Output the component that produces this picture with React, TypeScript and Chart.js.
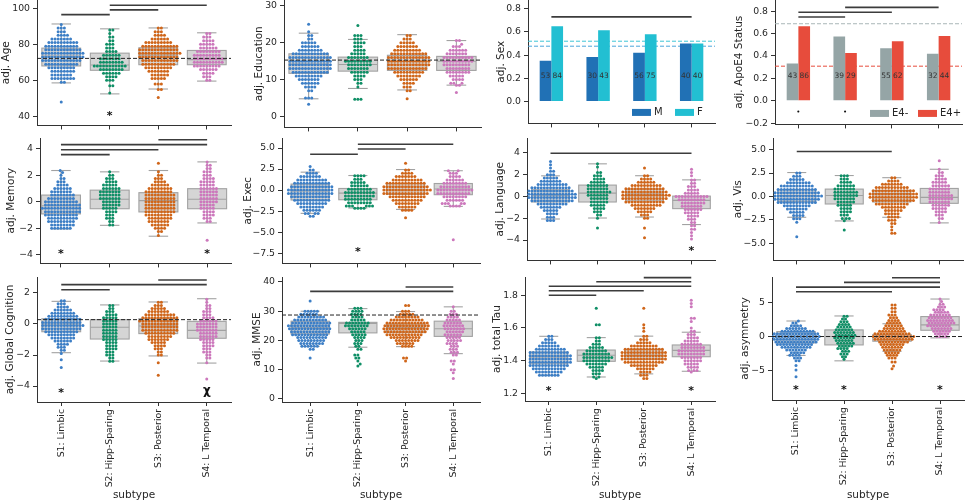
import React, { useEffect, useRef } from 'react';
import { Chart, registerables } from 'chart.js';

Chart.register(...registerables);

type Pair = [number, number];

const FONT = 'DejaVu Sans';
const TEXT = '#262626';
const AXIS = '#333333';
const BOX_FILL = '#d5d5d5';
const BOX_LINE = '#a2a2a2';
const SIG = '#3c3c3c';

const categories = ['S1: Limbic', 'S2: Hipp-Sparing', 'S3: Posterior', 'S4: L Temporal'];
const groupColors = ['#3d7fc6', '#0f8f66', '#d0661a', '#cc78bc'];

// ---------- Age ----------
const ageS1: Pair[] = [[91,1],[89,3],[87,3],[85,4],[83,7],[81,10],[79,11],[77,12],[75,14],[73,14],[71,13],[69,11],[67,9],[65,8],[63,7],[61,8],[59,2],[48,1]];
const ageS2: Pair[] = [[88,2],[86,1],[84,2],[82,2],[80,3],[78,3],[76,4],[74,6],[72,7],[70,8],[68,11],[66,8],[64,6],[62,4],[60,3],[57,2],[53,1]];
const ageS3: Pair[] = [[89,2],[87,3],[85,4],[83,6],[81,9],[79,12],[77,13],[75,14],[73,13],[71,12],[69,11],[67,9],[65,7],[63,6],[61,5],[58,3],[55,2],[50.5,1]];
const ageS4: Pair[] = [[86,2],[84,3],[82,4],[80,5],[78,6],[76,8],[74,9],[72,10],[70,10],[68,9],[66,6],[64,4],[62,3],[60,2]];
const ageBox = [[58.6,68.0,73.5,77.9,91.3],[52.5,65.6,68.5,75.1,88.6],[55.2,68.7,74.0,78.1,89.1],[59.6,68.7,71.5,76.6,86.4]];
const ageSig = [[0,1,96.5],[1,2,99.1],[1,3,101.7]];
const ageStars: [number, number, string][] = [[1,42,'*']];
const ageTicks = [40,60,80,100];

// ---------- Education ----------
const eduS1: Pair[] = [[25,1],[23,1],[22,2],[21,2],[20,5],[19,6],[18,8],[17,12],[16,14],[15,14],[14,14],[13,14],[12,12],[11,9],[10,7],[9,6],[8,4],[7,2],[5,3],[3.3,1]];
const eduS2: Pair[] = [[24.7,1],[22,3],[21,3],[20,4],[19,3],[18,4],[17,5],[16,7],[15,9],[14,8],[13,7],[12,6],[11,4],[10,3],[9,2],[8,1],[4.7,3]];
const eduS3: Pair[] = [[22,2],[21,3],[20,5],[19,7],[18,9],[17,12],[16,14],[15,14],[14,14],[13,13],[12,10],[11,8],[10,6],[9,4],[8,3],[7,2],[4.8,1]];
const eduS4: Pair[] = [[20.6,2],[19.6,1],[19,3],[18,6],[17,7],[16,10],[15,10],[14,9],[13,8],[12,8],[11,5],[10,4],[9,3],[8.5,2],[6.5,1]];
const eduBox = [[4.8,11.7,14.2,17.0,22.6],[7.6,12.3,14.1,16.1,20.9],[7.2,12.5,14.9,16.6,22.2],[8.5,12.5,15.0,16.3,20.6]];
const eduTicks = [0,10,20,30];

// ---------- Sex ----------
const sexM = [0.352, 0.384, 0.42, 0.5];
const sexF = [0.65, 0.615, 0.58, 0.5];
const sexCountM = [53, 30, 56, 40];
const sexCountF = [84, 43, 75, 40];
const sexRef = [0.52, 0.477];
const sexSig = [[0,3,0.73]];
const sexTicks = [0,0.2,0.4,0.6,0.8];

// ---------- ApoE4 ----------
const apoNeg = [0.332, 0.573, 0.469, 0.42];
const apoPos = [0.665, 0.427, 0.531, 0.579];
const apoCountNeg = [43, 39, 55, 32];
const apoCountPos = [86, 29, 62, 44];
const apoRef = [0.688, 0.309];
const apoSig = [[0,1,0.748],[0,2,0.79],[1,3,0.834]];
const apoMarks: [number, number, string][] = [[0,-0.105,'•'],[1,-0.105,'•']];
const apoTicks = [-0.2,0,0.2,0.4,0.6,0.8];

// ---------- Memory ----------
const memS1: Pair[] = [[2.35,1],[2.2,1],[2.0,1],[1.75,2],[1.5,3],[1.25,4],[1.0,6],[0.75,7],[0.5,8],[0.25,9],[0,11],[-0.25,12],[-0.5,13],[-0.75,12],[-1.0,11],[-1.25,10],[-1.5,9],[-1.75,8],[-2.0,7]];
const memS2: Pair[] = [[2.25,1],[2.0,2],[1.75,3],[1.5,4],[1.25,5],[1.0,6],[0.75,7],[0.5,7],[0.25,7],[0,6],[-0.25,6],[-0.5,5],[-0.75,4],[-1.0,3],[-1.25,3],[-1.5,2],[-1.75,2]];
const memS3: Pair[] = [[2.9,1],[2.25,1],[2.0,2],[1.75,3],[1.5,4],[1.25,6],[1.0,8],[0.75,9],[0.5,10],[0.25,10],[0,10],[-0.25,10],[-0.5,10],[-0.75,10],[-1.0,9],[-1.25,8],[-1.5,7],[-1.75,6],[-2.0,4],[-2.25,2],[-2.55,1]];
const memS4: Pair[] = [[3.0,1],[2.75,2],[2.5,2],[2.25,3],[2.0,3],[1.75,4],[1.5,5],[1.25,5],[1.0,6],[0.75,6],[0.5,6],[0.25,6],[0,6],[-0.25,5],[-0.5,5],[-0.75,4],[-1.0,4],[-1.25,3],[-1.5,2],[-2.9,1]];
const memBox = [[-2.05,-0.92,-0.3,0.5,2.35],[-1.78,-0.53,0.18,0.87,2.25],[-2.6,-0.77,0.08,0.68,2.35],[-1.6,-0.53,0.18,0.98,3.0]];
const memSig = [[0,1,3.55],[0,2,3.92],[0,3,4.3],[2,3,4.67]];
const memStars: [number, number, string][] = [[0,-3.7,'*'],[3,-3.7,'*']];
const memTicks = [-4,-2,0,2,4];

// ---------- Exec ----------
const exeS1: Pair[] = [[2.8,1],[2.4,2],[2.0,4],[1.6,7],[1.2,10],[0.8,12],[0.4,14],[0.0,15],[-0.4,15],[-0.8,13],[-1.2,12],[-1.6,10],[-2.0,8],[-2.4,6],[-2.8,4],[-3.1,2]];
const exeS2: Pair[] = [[1.7,4],[1.3,3],[0.9,5],[0.5,6],[0.1,8],[-0.3,10],[-0.7,10],[-1.1,9],[-1.5,8],[-1.9,6],[-2.15,4]];
const exeS3: Pair[] = [[3.2,1],[2.4,2],[2.0,4],[1.6,7],[1.2,10],[0.8,13],[0.4,15],[0.0,16],[-0.4,15],[-0.8,12],[-1.2,10],[-1.6,8],[-2.0,6],[-2.4,4],[-3.3,1]];
const exeS4: Pair[] = [[2.3,2],[2.0,3],[1.6,4],[1.2,6],[0.8,8],[0.4,10],[0.0,12],[-0.4,11],[-0.8,8],[-1.2,6],[-1.6,5],[-1.9,4],[-5.9,1]];
const exeBox = [[-2.77,-1.18,-0.1,0.71,2.13],[-2.13,-1.15,-0.36,0.19,1.73],[-2.3,-0.52,0.0,0.78,2.44],[-1.94,-0.55,0.12,0.78,2.3]];
const exeSig = [[0,1,4.26],[1,2,4.89],[1,3,5.44]];
const exeStars: [number, number, string][] = [[1,-7.0,'*']];
const exeTicks = [-7.5,-5,-2.5,0,2.5,5];

// ---------- Language ----------
const lanS1: Pair[] = [[3.2,1],[2.9,1],[2.6,1],[2.3,2],[2.0,3],[1.7,5],[1.4,7],[1.1,10],[0.8,13],[0.5,15],[0.2,16],[-0.1,16],[-0.4,14],[-0.7,10],[-1.0,7],[-1.3,5],[-1.6,4],[-1.9,3],[-2.2,3]];
const lanS2: Pair[] = [[3.0,1],[2.7,1],[2.2,2],[1.9,3],[1.6,4],[1.3,5],[1.0,7],[0.7,7],[0.4,8],[0.1,7],[-0.2,6],[-0.5,6],[-0.8,5],[-1.1,4],[-1.4,3],[-1.7,2],[-2.0,1],[-2.9,1]];
const lanS3: Pair[] = [[2.6,1],[1.9,2],[1.6,4],[1.3,6],[1.0,10],[0.7,13],[0.4,15],[0.1,16],[-0.2,15],[-0.5,13],[-0.8,10],[-1.1,7],[-1.4,5],[-1.7,3],[-2.0,2],[-2.9,1],[-3.8,1]];
const lanS4: Pair[] = [[2.5,1],[2.2,1],[1.9,1],[1.5,2],[1.2,2],[0.9,3],[0.6,4],[0.3,5],[0.0,11],[-0.3,9],[-0.6,8],[-0.9,7],[-1.2,6],[-1.5,5],[-1.8,4],[-2.1,3],[-2.4,2],[-2.7,2],[-3.0,2],[-3.3,1],[-3.6,1],[-3.9,1]];
const lanBox = [[-2.07,-0.51,0.06,0.61,1.89],[-1.98,-0.51,0.3,1.04,2.99],[-1.89,-0.42,0.21,0.67,1.9],[-2.58,-1.12,-0.36,0.03,1.52]];
const lanSig = [[0,3,3.96]];
const lanStars: [number, number, string][] = [[3,-4.72,'*']];
const lanTicks = [-4,-2,0,2,4];

// ---------- Vis ----------
const visS1: Pair[] = [[2.5,2],[2.15,3],[1.8,5],[1.45,8],[1.1,11],[0.75,13],[0.4,15],[0.05,16],[-0.3,15],[-0.65,13],[-1.0,9],[-1.35,7],[-1.7,5],[-2.05,4],[-2.4,3],[-2.75,1],[-4.3,1]];
const visS2: Pair[] = [[2.2,3],[1.85,3],[1.5,4],[1.15,6],[0.8,7],[0.45,8],[0.1,8],[-0.25,7],[-0.6,6],[-0.95,5],[-1.3,4],[-1.65,4],[-2.0,3],[-2.35,3],[-2.6,1],[-3.6,1]];
const visS3: Pair[] = [[2.0,2],[1.65,4],[1.3,7],[0.95,11],[0.6,14],[0.25,16],[-0.1,16],[-0.45,14],[-0.8,11],[-1.15,8],[-1.5,6],[-1.85,5],[-2.2,4],[-2.55,3],[-2.9,2],[-3.25,1],[-3.6,1],[-3.95,2]];
const visS4: Pair[] = [[3.8,1],[2.9,1],[2.55,2],[2.2,3],[1.85,4],[1.5,5],[1.15,6],[0.8,7],[0.45,7],[0.1,8],[-0.25,8],[-0.6,7],[-0.95,6],[-1.3,5],[-1.65,4],[-2.0,3],[-2.35,2],[-2.8,1]];
const visBox = [[-2.23,-0.53,0.1,0.71,2.55],[-2.62,-0.81,0.1,0.78,2.23],[-2.23,-0.6,0.3,0.64,2.0],[-2.83,-0.74,-0.1,0.85,2.9]];
const visSig = [[0,2,4.8]];
const visTicks = [-5,-2.5,0,2.5,5];

// ---------- Global Cognition ----------
const gcS1: Pair[] = [[1.5,2],[1.3,3],[1.1,4],[0.9,6],[0.7,8],[0.5,10],[0.3,12],[0.1,13],[-0.1,14],[-0.3,13],[-0.5,11],[-0.7,9],[-0.9,8],[-1.1,6],[-1.3,4],[-1.5,3],[-1.7,2],[-1.9,1],[-2.3,1],[-2.8,1]];
const gcS2: Pair[] = [[1.2,2],[1.0,2],[0.8,3],[0.6,4],[0.4,5],[0.2,5],[0.0,5],[-0.2,5],[-0.4,5],[-0.6,5],[-0.8,5],[-1.0,5],[-1.2,4],[-1.4,4],[-1.6,4],[-1.8,3],[-2.0,3],[-2.2,2],[-2.4,2]];
const gcS3: Pair[] = [[1.4,2],[1.2,3],[1.0,5],[0.8,7],[0.6,10],[0.4,12],[0.2,13],[0.0,12],[-0.2,12],[-0.4,12],[-0.6,10],[-0.8,8],[-1.0,7],[-1.2,5],[-1.4,4],[-1.6,3],[-1.8,2],[-2.0,2],[-2.5,1],[-3.3,1]];
const gcS4: Pair[] = [[1.6,1],[1.4,1],[1.2,2],[1.0,2],[0.8,3],[0.6,3],[0.4,4],[0.2,6],[0.0,7],[-0.2,7],[-0.4,7],[-0.6,6],[-0.8,6],[-1.0,5],[-1.2,4],[-1.4,4],[-1.6,3],[-1.8,3],[-2.0,2],[-2.2,2],[-2.5,1],[-3.55,1]];
const gcBox = [[-1.85,-0.5,0.0,0.34,1.46],[-2.39,-0.97,-0.21,0.28,1.23],[-2.06,-0.62,-0.13,0.34,1.42],[-2.52,-0.92,-0.41,0.17,1.63]];
const gcSig = [[0,1,2.21],[0,3,2.54],[2,3,2.84]];
const gcStars: [number, number, string][] = [[0,-4.28,'*'],[3,-4.3,'χ']];
const gcTicks = [-4,-2,0,2];

// ---------- MMSE ----------
const mmsS1: Pair[] = [[33.5,1],[30,5],[29,6],[28,9],[27,11],[26,13],[25,14],[24,14],[23,13],[22,12],[21,10],[20,9],[19,8],[18,6],[17,2],[14,1]];
const mmsS2: Pair[] = [[31,3],[30,4],[29,4],[28,4],[27,5],[26,8],[25,8],[24,6],[23,5],[22,5],[21,4],[20,3],[19,3],[18,2],[17,2],[15,2],[14,2],[13,1],[12,1],[11.3,1]];
const mmsS3: Pair[] = [[32,2],[30,3],[29,5],[28,8],[27,11],[26,14],[25,15],[24,15],[23,14],[22,12],[21,10],[20,8],[19,6],[18,4],[14,2],[13,1]];
const mmsS4: Pair[] = [[31.5,1],[30,2],[29,3],[28,4],[27,5],[26,6],[25,7],[24,7],[23,6],[22,6],[21,5],[20,5],[19,4],[18,3],[17,3],[16,3],[15,2],[13,2],[12,1],[10,2],[9,1],[7,1]];
const mmsBox = [[18.0,22.2,24.3,26.6,30.0],[17.7,22.6,25.8,26.2,30.9],[17.9,22.7,24.3,25.7,29.9],[15.5,21.4,24.0,26.6,31.5]];
const mmsSig = [[0,3,36.8],[2,3,38.3]];
const mmsTicks = [0,10,20,30,40];

// ---------- total Tau ----------
const tauS1: Pair[] = [[1.55,2],[1.53,3],[1.51,5],[1.49,7],[1.47,10],[1.45,13],[1.43,14],[1.41,14],[1.39,14],[1.37,13],[1.35,11],[1.33,9],[1.31,7]];
const tauS2: Pair[] = [[1.72,1],[1.62,2],[1.54,2],[1.52,2],[1.50,3],[1.48,5],[1.46,7],[1.44,9],[1.42,10],[1.40,9],[1.38,7],[1.36,5],[1.34,4],[1.32,3],[1.30,2],[1.29,1]];
const tauS3: Pair[] = [[1.72,1],[1.62,1],[1.60,1],[1.58,1],[1.55,2],[1.53,3],[1.51,5],[1.49,9],[1.47,13],[1.45,15],[1.43,15],[1.41,15],[1.39,13],[1.37,9],[1.35,6],[1.33,4],[1.31,3],[1.29,2]];
const tauS4: Pair[] = [[1.77,1],[1.75,1],[1.73,1],[1.66,2],[1.64,1],[1.60,1],[1.58,2],[1.56,3],[1.54,4],[1.52,5],[1.50,7],[1.48,8],[1.46,9],[1.44,9],[1.42,7],[1.40,6],[1.38,5],[1.36,4],[1.34,3],[1.33,1]];
const tauBox = [[1.311,1.38,1.423,1.453,1.549],[1.30,1.396,1.433,1.465,1.541],[1.319,1.408,1.433,1.47,1.55],[1.335,1.424,1.463,1.496,1.574]];
const tauSig = [[0,1,1.80],[0,2,1.828],[0,3,1.855],[1,3,1.883],[2,3,1.908]];
const tauStars: [number, number, string][] = [[0,1.233,'*'],[3,1.233,'*']];
const tauTicks = [1.2,1.4,1.6,1.8];

// ---------- asymmetry ----------
const asyS1: Pair[] = [[2.3,1],[2.0,2],[1.6,4],[1.2,7],[0.8,11],[0.4,15],[0.0,16],[-0.4,15],[-0.8,14],[-1.2,12],[-1.6,10],[-2.0,7],[-2.4,5],[-2.8,4],[-3.2,3],[-3.6,2],[-4.3,1],[-5.0,1],[-6.0,1]];
const asyS2: Pair[] = [[3.0,2],[2.6,2],[2.2,3],[1.8,4],[1.4,5],[1.0,6],[0.6,7],[0.2,7],[-0.2,7],[-0.6,6],[-1.0,6],[-1.4,5],[-1.8,4],[-2.2,3],[-2.6,3],[-3.0,2],[-3.4,1]];
const asyS3: Pair[] = [[4.7,2],[4.2,2],[3.7,2],[3.2,3],[2.8,3],[2.4,4],[2.0,5],[1.6,6],[1.2,7],[0.8,9],[0.4,12],[0.0,14],[-0.4,13],[-0.8,10],[-1.2,8],[-1.6,7],[-2.0,6],[-2.4,5],[-2.8,4],[-3.2,3],[-3.8,2],[-4.4,1],[-4.8,1]];
const asyS4: Pair[] = [[5.6,1],[5.2,1],[4.8,2],[4.4,3],[4.0,4],[3.6,5],[3.2,7],[2.8,8],[2.4,9],[2.0,9],[1.6,8],[1.2,7],[0.8,6],[0.4,5],[0.0,4]];
const asyBox = [[-2.82,-0.95,0.0,0.74,2.31],[-3.62,-1.25,0.0,0.98,3.06],[-2.2,-0.7,0.0,0.3,1.9],[-0.2,0.93,1.73,2.97,5.58]];
const asySig = [[0,2,6.67],[0,3,7.36],[1,3,8.06],[2,3,8.75]];
const asyStars: [number, number, string][] = [[0,-7.47,'*'],[1,-7.47,'*'],[3,-7.47,'*']];
const asyTicks = [-5,0,5];

// ---------- panel configuration ----------
interface HLine { y: number; color: string; }
interface BarSeries { label: string; values: number[]; counts: number[]; color: string; legendOff: number; }
interface Panel {
  kind: 'swarm' | 'bar';
  title: string;
  left: number; right: number; top: number; bottom: number; yw: number; xh: number;
  xMin: number; xMax: number; yMin: number; yMax: number;
  yTicks: number[]; dec: number; showX: boolean;
  groups?: Pair[][]; boxes?: number[][];
  bars?: BarSeries[]; countY?: number;
  sig: number[][]; stars: [number, number, string][]; hlines: HLine[];
}

const PT = 10;
const PR = 10;
const ROW1 = 0, ROW2 = 138, ROW3 = 277;

const panels: Panel[] = [
  { kind: 'swarm', title: 'adj. Age', left: 37, right: 231, top: ROW1, bottom: 126, yw: 37, xh: 8,
    xMin: -0.5, xMax: 3.5, yMin: 35.0, yMax: 104.6, yTicks: ageTicks, dec: 0, showX: false,
    groups: [ageS1, ageS2, ageS3, ageS4], boxes: ageBox, sig: ageSig, stars: ageStars,
    hlines: [{ y: 72.2, color: '#222' }] },
  { kind: 'swarm', title: 'adj. Education', left: 284, right: 481, top: ROW1, bottom: 128, yw: 31, xh: 8,
    xMin: -0.5, xMax: 3.5, yMin: -2.97, yMax: 31.6, yTicks: eduTicks, dec: 0, showX: false,
    groups: [eduS1, eduS2, eduS3, eduS4], boxes: eduBox, sig: [], stars: [],
    hlines: [{ y: 15.3, color: '#222' }] },
  { kind: 'bar', title: 'adj. Sex', left: 528, right: 715, top: ROW1, bottom: 124, yw: 33, xh: 8,
    xMin: -0.5, xMax: 3.5, yMin: -0.19, yMax: 0.876, yTicks: sexTicks, dec: 1, showX: false,
    bars: [
      { label: 'M', values: sexM, counts: sexCountM, color: '#2171b5', legendOff: 83 },
      { label: 'F', values: sexF, counts: sexCountF, color: '#22bfd2', legendOff: 40 },
    ], countY: 0.22, sig: sexSig, stars: [],
    hlines: [{ y: sexRef[0], color: '#3fc6d6' }, { y: sexRef[1], color: '#4aa6da' }] },
  { kind: 'bar', title: 'adj. ApoE4 Status', left: 775, right: 962, top: ROW1, bottom: 125, yw: 42, xh: 8,
    xMin: -0.5, xMax: 3.5, yMin: -0.211, yMax: 0.90, yTicks: apoTicks, dec: 1, showX: false,
    bars: [
      { label: 'E4-', values: apoNeg, counts: apoCountNeg, color: '#95a5a6', legendOff: 92 },
      { label: 'E4+', values: apoPos, counts: apoCountPos, color: '#e74c3c', legendOff: 44 },
    ], countY: 0.22, sig: apoSig, stars: apoMarks,
    hlines: [{ y: apoRef[0], color: '#a9b6b7' }, { y: apoRef[1], color: '#e74c3c' }] },

  { kind: 'swarm', title: 'adj. Memory', left: 40, right: 231, top: ROW2, bottom: 264, yw: 35, xh: 8,
    xMin: -0.43, xMax: 3.49, yMin: -4.65, yMax: 4.8, yTicks: memTicks, dec: 0, showX: false,
    groups: [memS1, memS2, memS3, memS4], boxes: memBox, sig: memSig, stars: memStars, hlines: [] },
  { kind: 'swarm', title: 'adj. Exec', left: 282, right: 480, top: ROW2, bottom: 264, yw: 40, xh: 8,
    xMin: -0.59, xMax: 3.56, yMin: -8.72, yMax: 6.19, yTicks: exeTicks, dec: 1, showX: false,
    groups: [exeS1, exeS2, exeS3, exeS4], boxes: exeBox, sig: exeSig, stars: exeStars, hlines: [] },
  { kind: 'swarm', title: 'adj. Language', left: 527, right: 715, top: ROW2, bottom: 261, yw: 33, xh: 8,
    xMin: -0.5, xMax: 3.5, yMin: -5.87, yMax: 5.36, yTicks: lanTicks, dec: 0, showX: false,
    groups: [lanS1, lanS2, lanS3, lanS4], boxes: lanBox, sig: lanSig, stars: lanStars, hlines: [] },
  { kind: 'swarm', title: 'adj. Vis', left: 773, right: 963, top: ROW2, bottom: 261, yw: 41, xh: 8,
    xMin: -0.5, xMax: 3.5, yMin: -6.84, yMax: 6.24, yTicks: visTicks, dec: 1, showX: false,
    groups: [visS1, visS2, visS3, visS4], boxes: visBox, sig: visSig, stars: [], hlines: [] },

  { kind: 'swarm', title: 'adj. Global Cognition', left: 37, right: 231, top: ROW3, bottom: 402, yw: 33, xh: 101,
    xMin: -0.5, xMax: 3.5, yMin: -5.03, yMax: 3.03, yTicks: gcTicks, dec: 0, showX: true,
    groups: [gcS1, gcS2, gcS3, gcS4], boxes: gcBox, sig: gcSig, stars: gcStars,
    hlines: [{ y: 0.28, color: '#222' }] },
  { kind: 'swarm', title: 'adj. MMSE', left: 282, right: 480, top: ROW3, bottom: 402, yw: 31, xh: 101,
    xMin: -0.59, xMax: 3.56, yMin: -1.03, yMax: 41.7, yTicks: mmsTicks, dec: 0, showX: true,
    groups: [mmsS1, mmsS2, mmsS3, mmsS4], boxes: mmsBox, sig: mmsSig, stars: [],
    hlines: [{ y: 28.7, color: '#222' }] },
  { kind: 'swarm', title: 'adj. total Tau', left: 525, right: 715, top: ROW3, bottom: 401, yw: 34, xh: 102,
    xMin: -0.5, xMax: 3.5, yMin: 1.153, yMax: 1.912, yTicks: tauTicks, dec: 1, showX: true,
    groups: [tauS1, tauS2, tauS3, tauS4], boxes: tauBox, sig: tauSig, stars: tauStars, hlines: [] },
  { kind: 'swarm', title: 'adj. asymmetry', left: 772, right: 964, top: ROW3, bottom: 400, yw: 33, xh: 103,
    xMin: -0.5, xMax: 3.5, yMin: -9.45, yMax: 8.86, yTicks: asyTicks, dec: 0, showX: true,
    groups: [asyS1, asyS2, asyS3, asyS4], boxes: asyBox, sig: asySig, stars: asyStars,
    hlines: [{ y: 0, color: '#222' }] },
];

// ---------- helpers ----------
const DIAM = 3.1;
const RADIUS = 1.5;
const TICK_SIZE = 9.3;
const TITLE_SIZE = 10.5;

function expand(pairs: Pair[]): number[] {
  const out: number[] = [];
  pairs.forEach(([v, c]) => { for (let k = 0; k < c; k++) out.push(v); });
  return out;
}

function swarmOffsets(vals: number[], pxPerY: number, d: number): number[] {
  const order = vals.map((_, i) => i).sort((a, b) => vals[a] - vals[b]);
  const placed: { x: number; y: number }[] = [];
  const res: number[] = new Array(vals.length).fill(0);
  const d2 = d * d;
  for (const i of order) {
    const y = vals[i] * pxPerY;
    const near = placed.filter((q) => Math.abs(q.y - y) < d);
    const cands = [0];
    near.forEach((q) => {
      const dx = Math.sqrt(Math.max(d2 - (q.y - y) ** 2, 0));
      cands.push(q.x + dx, q.x - dx);
    });
    cands.sort((a, b) => Math.abs(a) - Math.abs(b));
    let best = 0;
    for (const c of cands) {
      if (near.every((q) => (q.x - c) ** 2 + (q.y - y) ** 2 >= d2 - 0.01)) { best = c; break; }
    }
    placed.push({ x: best, y });
    res[i] = best;
  }
  return res;
}

function fmt(v: number, dec: number): string {
  const s = (Math.abs(v) < 1e-9 ? 0 : v).toFixed(dec);
  return s.replace('-', '\u2212');
}

function seg(ctx: CanvasRenderingContext2D, x1: number, y1: number, x2: number, y2: number) {
  ctx.beginPath(); ctx.moveTo(x1, y1); ctx.lineTo(x2, y2); ctx.stroke();
}

function geom(p: Panel) {
  return {
    x: p.left - p.yw,
    y: p.top - PT,
    w: (p.right - p.left) + p.yw + PR,
    h: (p.bottom - p.top) + PT + p.xh,
  };
}

function drawHLines(ctx: CanvasRenderingContext2D, p: Panel, chart: any) {
  const a = chart.chartArea; const ys = chart.scales.y;
  ctx.save();
  ctx.lineWidth = 1;
  ctx.setLineDash([4, 2]);
  p.hlines.forEach((h) => {
    const y = ys.getPixelForValue(h.y);
    ctx.strokeStyle = h.color;
    seg(ctx, a.left, y, a.right, y);
  });
  ctx.restore();
}

function annotPlugin(p: Panel) {
  return {
    id: 'annot',
    beforeDatasetsDraw(chart: any) {
      const ctx: CanvasRenderingContext2D = chart.ctx;
      const xs = chart.scales.x; const ys = chart.scales.y;
      ctx.save();
      if (p.boxes) {
        const cat = xs.getPixelForValue(1) - xs.getPixelForValue(0);
        const hw = cat * 0.4;
        p.boxes.forEach((b, i) => {
          const cx = xs.getPixelForValue(i);
          const [wl, q1, md, q3, wh] = b.map((v) => ys.getPixelForValue(v));
          ctx.fillStyle = BOX_FILL;
          ctx.fillRect(cx - hw, q3, 2 * hw, q1 - q3);
          ctx.strokeStyle = BOX_LINE; ctx.lineWidth = 1.1;
          ctx.strokeRect(cx - hw, q3, 2 * hw, q1 - q3);
          seg(ctx, cx - hw, md, cx + hw, md);
          seg(ctx, cx, q3, cx, wh); seg(ctx, cx, q1, cx, wl);
          seg(ctx, cx - hw / 2, wh, cx + hw / 2, wh);
          seg(ctx, cx - hw / 2, wl, cx + hw / 2, wl);
        });
      }
      ctx.restore();
      if (p.kind === 'bar') drawHLines(ctx, p, chart);
    },
    afterDatasetsDraw(chart: any) {
      const ctx: CanvasRenderingContext2D = chart.ctx;
      const xs = chart.scales.x; const ys = chart.scales.y; const a = chart.chartArea;
      if (p.kind === 'swarm') drawHLines(ctx, p, chart);
      ctx.save();
      ctx.strokeStyle = SIG; ctx.lineWidth = 1.6; ctx.setLineDash([]);
      p.sig.forEach(([i, j, y]) => {
        const py = ys.getPixelForValue(y);
        seg(ctx, xs.getPixelForValue(i), py, xs.getPixelForValue(j), py);
      });
      ctx.fillStyle = '#111'; ctx.textAlign = 'center'; ctx.textBaseline = 'middle';
      p.stars.forEach(([i, y, t]) => {
        const px = xs.getPixelForValue(i); let py = ys.getPixelForValue(y);
        if (t === '*') { ctx.font = `bold 11px "${FONT}"`; py += 3; }
        else if (t === '•') { ctx.font = `7px "${FONT}"`; }
        else { ctx.font = `bold 12px "${FONT}"`; }
        ctx.fillText(t, px, py);
      });
      if (p.bars) {
        ctx.font = `7.5px "${FONT}"`; ctx.fillStyle = '#333';
        const cy = ys.getPixelForValue(p.countY ?? 0.2);
        p.bars.forEach((b, d) => {
          const meta = chart.getDatasetMeta(d);
          b.counts.forEach((c, i) => {
            const el = meta.data[i];
            ctx.fillText(String(c), el.x, cy);
          });
        });
        const ly = a.bottom - 11;
        p.bars.forEach((b) => {
          const lx = a.right - b.legendOff;
          ctx.fillStyle = b.color;
          ctx.fillRect(lx, ly - 3.5, 19, 7);
          ctx.fillStyle = TEXT; ctx.font = `10px "${FONT}"`; ctx.textAlign = 'left';
          ctx.fillText(b.label, lx + 22, ly);
        });
      }
      ctx.restore();
    },
  };
}

function makeChart(canvas: HTMLCanvasElement, p: Panel): Chart {
  const tickFont = { family: FONT, size: TICK_SIZE };
  const titleFont = { family: FONT, size: TITLE_SIZE };
  const xOpts: any = {
    type: p.kind === 'bar' ? 'category' : 'linear',
    offset: p.kind === 'bar',
    ticks: {
      autoSkip: false, maxRotation: 90, minRotation: p.showX ? 90 : 0, padding: 3,
      font: tickFont, color: TEXT,
      callback: (_v: any, i: number) => (p.showX ? categories[i] : ''),
    },
    grid: { drawOnChartArea: false, drawTicks: true, tickLength: 4, color: AXIS, offset: false },
    border: { display: true, color: AXIS, width: 1 },
    title: { display: p.showX, text: 'subtype', font: titleFont, color: TEXT, padding: { top: 0, bottom: 1 } },
    afterFit: (s: any) => { s.height = p.xh; },
  };
  if (p.kind !== 'bar') {
    xOpts.min = p.xMin; xOpts.max = p.xMax;
    xOpts.afterBuildTicks = (s: any) => { s.ticks = categories.map((_, i) => ({ value: i })); };
  }
  const yOpts: any = {
    type: 'linear', min: p.yMin, max: p.yMax,
    afterBuildTicks: (s: any) => { s.ticks = p.yTicks.map((v) => ({ value: v })); },
    ticks: { padding: 3, font: tickFont, color: TEXT, callback: (v: any) => fmt(Number(v), p.dec) },
    grid: { drawOnChartArea: false, drawTicks: true, tickLength: 4, color: AXIS },
    border: { display: true, color: AXIS, width: 1 },
    title: { display: true, text: p.title, font: titleFont, color: TEXT, padding: { top: 0, bottom: 0 } },
    afterFit: (s: any) => { s.width = p.yw; },
  };
  const options: any = {
    animation: false, responsive: false, maintainAspectRatio: false, devicePixelRatio: 1,
    events: [],
    layout: { padding: { top: PT, right: PR, left: 0, bottom: 0 } },
    plugins: { legend: { display: false }, tooltip: { enabled: false } },
    scales: { x: xOpts, y: yOpts },
  };

  if (p.kind === 'bar' && p.bars) {
    return new Chart(canvas, {
      type: 'bar',
      data: {
        labels: categories,
        datasets: p.bars.map((b) => ({
          label: b.label, data: b.values, backgroundColor: b.color, borderWidth: 0,
          categoryPercentage: 0.5, barPercentage: 1.0,
        })),
      },
      options,
      plugins: [annotPlugin(p)],
    } as any);
  }

  const pxPerCat = (p.right - p.left) / (p.xMax - p.xMin);
  const pxPerY = (p.bottom - p.top) / (p.yMax - p.yMin);
  const datasets = (p.groups || []).map((g, i) => {
    const vals = expand(g);
    const offs = swarmOffsets(vals, pxPerY, DIAM);
    return {
      label: categories[i],
      data: vals.map((v, k) => ({ x: i + offs[k] / pxPerCat, y: v })),
      backgroundColor: groupColors[i],
      borderWidth: 0,
      pointRadius: RADIUS,
      pointHoverRadius: RADIUS,
    };
  });
  return new Chart(canvas, {
    type: 'scatter',
    data: { datasets },
    options,
    plugins: [annotPlugin(p)],
  } as any);
}

export default function App() {
  const refs = useRef<(HTMLCanvasElement | null)[]>([]);
  useEffect(() => {
    Chart.defaults.font.family = FONT;
    const charts = panels.map((p, i) => makeChart(refs.current[i] as HTMLCanvasElement, p));
    return () => { charts.forEach((c) => c.destroy()); };
  }, []);
  return (
    <div style={{ position: 'absolute', left: 0, top: 0, width: 965, height: 503, overflow: 'hidden', background: '#ffffff' }}>
      {panels.map((p, i) => {
        const g = geom(p);
        return (
          <canvas
            key={i}
            ref={(el) => { refs.current[i] = el; }}
            width={g.w}
            height={g.h}
            style={{ position: 'absolute', left: g.x, top: g.y, width: g.w, height: g.h }}
          />
        );
      })}
    </div>
  );
}
